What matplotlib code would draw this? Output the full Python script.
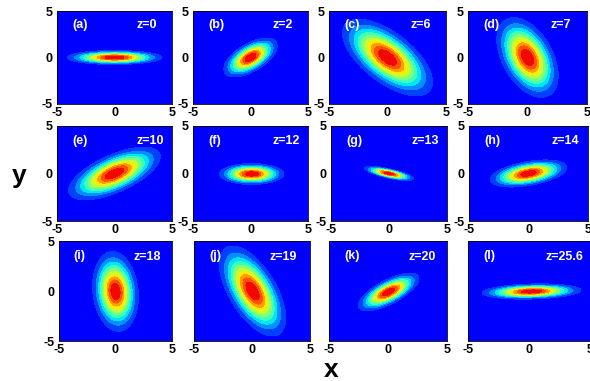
import numpy as np
import matplotlib
matplotlib.use('Agg')
import matplotlib.pyplot as plt

plt.rcParams['font.family'] = ['Liberation Sans', 'DejaVu Sans']
plt.rcParams['font.weight'] = 'bold'
plt.rcParams['axes.unicode_minus'] = False

# panel labels
tags = ['(a)', '(b)', '(c)', '(d)', '(e)', '(f)', '(g)', '(h)', '(i)', '(j)', '(k)', '(l)']
zs = ['z=0', 'z=2', 'z=6', 'z=7', 'z=10', 'z=12', 'z=13', 'z=14', 'z=18', 'z=19', 'z=20', 'z=25.6']

# outer contour ellipse (data units, degrees)
major = [4.1, 2.8, 5.1, 4.5, 4.47, 2.8, 2.17, 3.29, 4.0, 4.9, 2.97, 4.05]
minor = [0.75, 1.4, 2.4, 2.2, 1.9, 1.1, 0.5, 1.25, 2.0, 2.1, 1.15, 0.75]
tilt = [0, 40, -48, -70, 30, 0, -15, 13, 95, -64, 33, 2]
cx = [0, 0, 0, 0, 0, 0.1, 0, 0, 0, 0.05, 0.05, 0.2]
cy = [0, 0, 0, 0, 0, -0.05, 0, 0, -0.05, 0, -0.1, -0.05]

# layout (pixels)
W, H = 590, 381
col_left = [[57, 193, 329, 468], [57, 193, 331, 469], [59, 194, 329, 468]]
col_width = [[115, 115, 117, 119], [115, 115, 116, 119], [113, 116, 118, 122]]
row_top = [11, 126, 241]
row_h = [93, 95, 100]
zx = [1.95, 1.95, 1.95, 1.92, 1.93, 1.95, 1.9, 1.9, 1.57, 1.55, 1.73, 1.38]

fig = plt.figure(figsize=(5.9, 3.81), dpi=100)
x = np.linspace(-5, 5, 301)
X, Y = np.meshgrid(x, x)
levels = np.linspace(0, 1, 12)

for i in range(12):
    r, c = divmod(i, 4)
    ax = fig.add_axes([col_left[r][c] / W, 1 - (row_top[r] + row_h[r]) / H,
                       col_width[r][c] / W, row_h[r] / H])
    t = np.deg2rad(tilt[i])
    u = (X - cx[i]) * np.cos(t) + (Y - cy[i]) * np.sin(t)
    v = -(X - cx[i]) * np.sin(t) + (Y - cy[i]) * np.cos(t)
    f = np.exp(-np.log(11) * ((u / major[i]) ** 2 + (v / minor[i]) ** 2))
    ax.contourf(X, Y, f, levels=levels, cmap='jet', vmin=-0.082, vmax=1.069)
    ax.set_xlim(-5, 5)
    ax.set_ylim(-5, 5)
    ax.set_xticks([-5, 0, 5])
    ax.set_yticks([-5, 0, 5])
    ax.tick_params(length=0, labelsize=9)
    ax.tick_params(axis='x', pad=2)
    ax.tick_params(axis='y', pad=3)
    if r == 2 and c > 0:
        ax.set_yticklabels([])
    for s in ax.spines.values():
        s.set_linewidth(0.6)
    ax.text(-3.7, 3.45, tags[i], color='white', fontsize=9, va='center')
    ax.text(zx[i], 3.45, zs[i], color='white', fontsize=9, va='center')

fig.text(19 / W, 1 - 183 / H, 'y', fontsize=19, ha='center', va='baseline')
fig.text(331 / W, 1 - 377 / H, 'x', fontsize=19, ha='center', va='baseline')

fig.savefig('out.png', dpi=100)
